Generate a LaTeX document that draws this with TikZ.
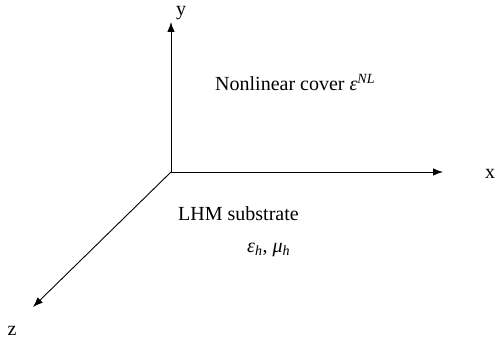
\documentclass[tikz,border=0pt]{standalone}
\usepackage{fontspec}
\setmainfont{Liberation Serif}
\usetikzlibrary{arrows.meta}
\tikzset{
  every picture/.style={line join=round, >=Stealth},
  axis/.style={line width=0.9pt, ->, >={Latex[length=10pt,width=7.5pt]}},
  lbl/.style={inner sep=0pt, font=\fontsize{20}{24}\selectfont},
}
\begin{document}
\begin{tikzpicture}[x=1pt,y=-1pt]
\useasboundingbox (0,0) rectangle (497,339);
\coordinate (O) at (171,172);
\coordinate (ytip) at (171,22);
\coordinate (xtip) at (443,172);
\coordinate (ztip) at (33,307);
\draw[axis] (O)--(ytip);
\draw[axis] (O)--(xtip);
\draw[axis] (O)--(ztip);
\node[lbl] (ylab) at (181,13) {y};
\node[lbl] (xlab) at (490,174) {x};
\node[lbl] (zlab) at (12,331) {z};
\node[lbl,anchor=base west] (cover) at (215,91) {Nonlinear cover \textit{ε}\textsuperscript{\textit{NL}}};
\node[lbl,anchor=base west] (lhm) at (178,220) {LHM substrate};
\node[lbl,anchor=base west] (param) at (247,252) {\textit{ε}\textsubscript{\textit{h}}, \textit{μ}\textsubscript{\textit{h}}};
\end{tikzpicture}
\end{document}
